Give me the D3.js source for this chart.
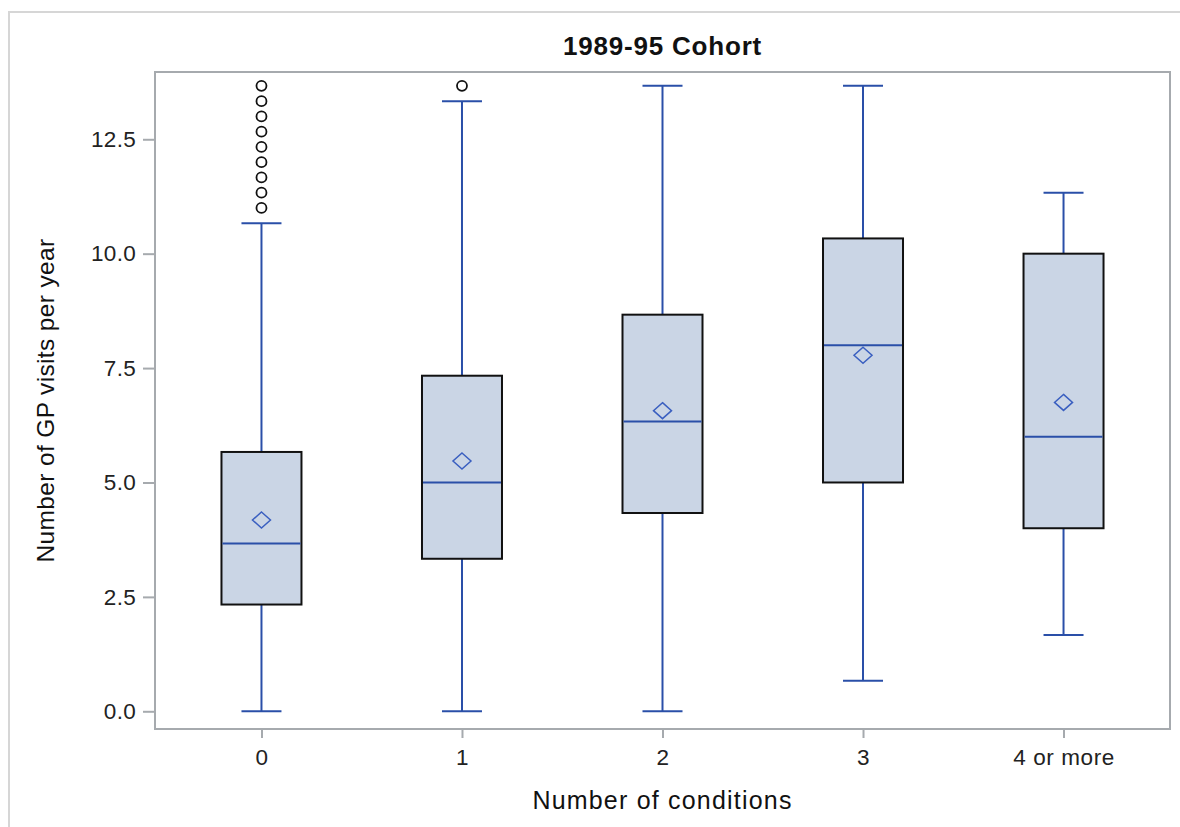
<!DOCTYPE html>
<html>
<head>
<meta charset="utf-8">
<script src="https://cdn.jsdelivr.net/npm/d3@7"></script>
<style>
  html, body { margin: 0; padding: 0; background: #fff; }
  svg { display: block; font-family: "Liberation Sans", Arial, sans-serif; }
</style>
</head>
<body>
<svg id="chart" width="1180" height="827"></svg>
<script>
// ---- Data ----
const categories = ["0", "1", "2", "3", "4 or more"];
const whiskerLow  = [0, 0, 0, 0.667, 1.667];
const q1          = [2.333, 3.333, 4.333, 5, 4];
const median      = [3.667, 5, 6.333, 8, 6];
const q3          = [5.667, 7.333, 8.667, 10.333, 10];
const whiskerHigh = [10.667, 13.333, 13.667, 13.667, 11.333];
const means       = [4.18, 5.47, 6.57, 7.78, 6.75];
const outliers0   = [11, 11.333, 11.667, 12, 12.333, 12.667, 13, 13.333, 13.667];
const outliers1   = [13.667];
const outliersAll = [outliers0, outliers1, [], [], []];
const yTicks      = [0, 2.5, 5, 7.5, 10, 12.5];

const title = "1989-95 Cohort";
const xTitle = "Number of conditions";
const yTitle = "Number of GP visits per year";

// ---- Layout ----
const svg = d3.select("#chart");
const L = 155, R = 1170, T = 72, B = 729;

const x = d3.scalePoint().domain(categories).range([L, R]).padding(0.531);
const y = d3.scaleLinear().domain([-0.387, 13.97]).range([B, T]);

const boxColor = "#cad5e5";
const blue = "#2a4fa8";
const frameColor = "#a6aaae";
const FONT = "Liberation Sans, Arial, sans-serif";

// outer border
svg.append("rect").attr("x", 9).attr("y", 12).attr("width", 1200).attr("height", 900)
  .attr("fill", "none").attr("stroke", "#d6d6d6").attr("stroke-width", 2);

// title
svg.append("text").attr("x", (L + R) / 2).attr("y", 55).attr("text-anchor", "middle")
  .attr("font-weight", "bold").attr("font-size", 26).attr("letter-spacing", 0.8)
  .attr("fill", "#111").text(title);

// axes
const yAxis = d3.axisLeft(y).tickValues(yTicks).tickFormat(d3.format(".1f")).tickSize(12).tickPadding(7);
const gy = svg.append("g").attr("transform", `translate(${L},0)`).call(yAxis);
gy.select(".domain").remove();
gy.selectAll(".tick line").attr("stroke", frameColor).attr("stroke-width", 2);
gy.selectAll(".tick text").attr("font-size", 22.5).attr("letter-spacing", 0.3).attr("fill", "#222")
  .attr("font-family", FONT);

const xAxis = d3.axisBottom(x).tickSize(9).tickPadding(11);
const gx = svg.append("g").attr("transform", `translate(0,${B})`).call(xAxis);
gx.select(".domain").remove();
gx.selectAll(".tick line").attr("stroke", frameColor).attr("stroke-width", 2);
gx.selectAll(".tick text").attr("font-size", 22.5).attr("letter-spacing", 0.6).attr("fill", "#222")
  .attr("font-family", FONT);

// frame
svg.append("rect").attr("x", L).attr("y", T).attr("width", R - L).attr("height", B - T)
  .attr("fill", "none").attr("stroke", frameColor).attr("stroke-width", 2);

// axis titles
svg.append("text").attr("x", (L + R) / 2).attr("y", 809).attr("text-anchor", "middle")
  .attr("font-size", 25).attr("letter-spacing", 1.2).attr("fill", "#111").text(xTitle);
svg.append("text").attr("transform", `translate(54,${(T + B) / 2}) rotate(-90)`)
  .attr("text-anchor", "middle").attr("font-size", 24.5).attr("letter-spacing", 0.35)
  .attr("fill", "#111").text(yTitle);

// boxes
const boxW = 80, capW = 40;
const data = categories.map((c, i) => ({
  c, lo: whiskerLow[i], q1: q1[i], med: median[i], q3: q3[i], hi: whiskerHigh[i],
  mean: means[i], out: outliersAll[i]
}));

const g = svg.append("g");
data.forEach(d => {
  const cx = x(d.c);
  // whiskers
  g.append("line").attr("x1", cx).attr("x2", cx).attr("y1", y(d.q3)).attr("y2", y(d.hi))
    .attr("stroke", blue).attr("stroke-width", 2);
  g.append("line").attr("x1", cx).attr("x2", cx).attr("y1", y(d.q1)).attr("y2", y(d.lo))
    .attr("stroke", blue).attr("stroke-width", 2);
  g.append("line").attr("x1", cx - capW / 2).attr("x2", cx + capW / 2).attr("y1", y(d.hi)).attr("y2", y(d.hi))
    .attr("stroke", blue).attr("stroke-width", 2);
  g.append("line").attr("x1", cx - capW / 2).attr("x2", cx + capW / 2).attr("y1", y(d.lo)).attr("y2", y(d.lo))
    .attr("stroke", blue).attr("stroke-width", 2);
  // box
  g.append("rect").attr("x", cx - boxW / 2).attr("y", y(d.q3)).attr("width", boxW)
    .attr("height", y(d.q1) - y(d.q3)).attr("fill", boxColor).attr("stroke", "#111").attr("stroke-width", 2);
  // median
  g.append("line").attr("x1", cx - boxW / 2 + 1).attr("x2", cx + boxW / 2 - 1).attr("y1", y(d.med)).attr("y2", y(d.med))
    .attr("stroke", blue).attr("stroke-width", 2);
  // mean diamond
  const my = y(d.mean);
  g.append("path").attr("d", `M${cx},${my - 8} L${cx + 9},${my} L${cx},${my + 8} L${cx - 9},${my} Z`)
    .attr("fill", "none").attr("stroke", "#3a5fc0").attr("stroke-width", 1.5);
  // outliers
  d.out.forEach(v => {
    g.append("circle").attr("cx", cx).attr("cy", y(v)).attr("r", 5)
      .attr("fill", "none").attr("stroke", "#111").attr("stroke-width", 1.8);
  });
});
</script>
</body>
</html>
